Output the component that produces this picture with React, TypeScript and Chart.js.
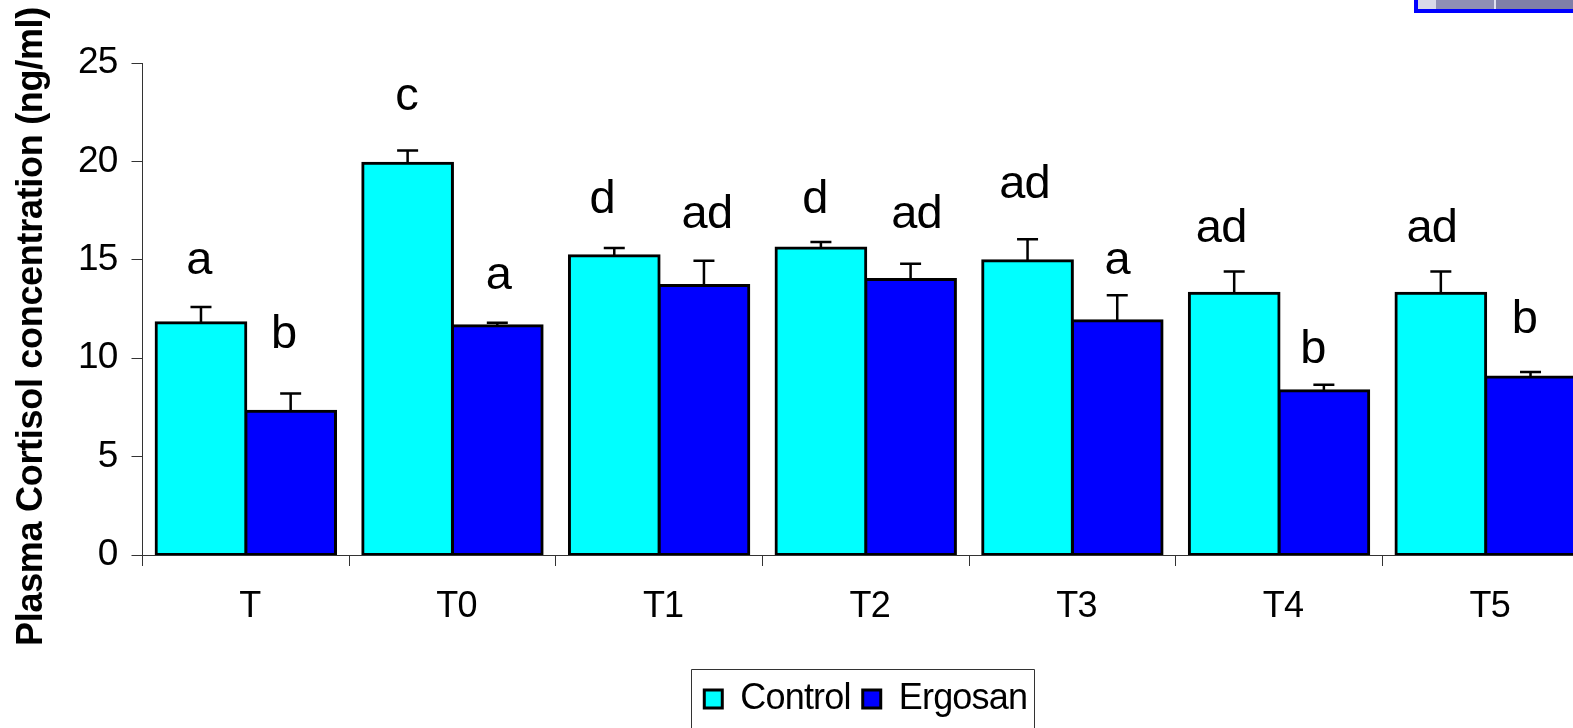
import React, { useEffect, useRef } from "react";
import { Chart, registerables } from "chart.js";

Chart.register(...registerables);

const categories = ["T", "T0", "T1", "T2", "T3", "T4", "T5"];
const controlValues = [11.8, 19.9, 15.2, 15.6, 14.95, 13.3, 13.3];
const ergosanValues = [7.3, 11.65, 13.7, 14.0, 11.9, 8.35, 9.05];
const controlErrorTops = [12.6, 20.55, 15.6, 15.9, 16.05, 14.4, 14.4];
const ergosanErrorTops = [8.2, 11.8, 14.95, 14.8, 13.2, 8.65, 9.3];
const controlLetters = ["a", "c", "d", "d", "ad", "ad", "ad"];
const ergosanLetters = ["b", "a", "ad", "ad", "a", "b", "b"];
const controlLetterBase = [14.3, 22.6, 17.4, 17.4, 18.15, 15.9, 15.9];
const ergosanLetterBase = [10.5, 13.5, 16.6, 16.6, 14.3, 9.75, 11.3];
const yAxisTitle = "Plasma Cortisol concentration (ng/ml)";

const FONT = '"Liberation Sans", Arial, sans-serif';
const controlLetterShift = [-2, -1, -12, -6, -3, -13, -9];
const ergosanLetterShift = [-7, 1, 3, 6, 0, -11, -6];

const spacingPlugin = {
  id: "spacing",
  beforeUpdate(chart: any) {
    chart.ctx.letterSpacing = "-0.8px";
  },
};

const annotationsPlugin = {
  id: "annotations",
  afterDatasetsDraw(chart: any) {
    const { ctx, scales } = chart;
    const y = scales.y;
    const groups = [
      { tops: controlErrorTops, letters: controlLetters, bases: controlLetterBase, shift: controlLetterShift },
      { tops: ergosanErrorTops, letters: ergosanLetters, bases: ergosanLetterBase, shift: ergosanLetterShift },
    ];
    groups.forEach((group, di) => {
      const meta = chart.getDatasetMeta(di);
      meta.data.forEach((bar: any, i: number) => {
        const top = y.getPixelForValue(group.tops[i]);
        ctx.save();
        ctx.strokeStyle = "#000";
        ctx.lineWidth = 2.5;
        ctx.beginPath();
        ctx.moveTo(bar.x, bar.y);
        ctx.lineTo(bar.x, top);
        ctx.moveTo(bar.x - 10.5, top);
        ctx.lineTo(bar.x + 10.5, top);
        ctx.stroke();
        ctx.fillStyle = "#000";
        ctx.font = `47px ${FONT}`;
        ctx.textAlign = "center";
        ctx.textBaseline = "alphabetic";
        ctx.fillText(group.letters[i], bar.x + group.shift[i], y.getPixelForValue(group.bases[i]));
        ctx.restore();
      });
    });
  },
  afterDraw(chart: any) {
    const { ctx, legend } = chart;
    ctx.save();
    ctx.fillStyle = "#000";
    ctx.translate(32, 326.5);
    ctx.rotate(-Math.PI / 2);
    ctx.font = `bold 36px ${FONT}`;
    ctx.letterSpacing = "-0.3px";
    ctx.textAlign = "center";
    ctx.textBaseline = "middle";
    ctx.fillText(yAxisTitle, 0, 0);
    ctx.restore();
    ctx.save();
    ctx.strokeStyle = "#333";
    ctx.lineWidth = 1;
    ctx.beginPath();
    ctx.moveTo(691.5, 735);
    ctx.lineTo(691.5, legend.top + 0.5);
    ctx.lineTo(1034.5, legend.top + 0.5);
    ctx.lineTo(1034.5, 735);
    ctx.stroke();
    ctx.restore();
  },
};

export default function App() {
  const ref = useRef<HTMLCanvasElement | null>(null);
  useEffect(() => {
    const barStyle = {
      borderColor: "#000",
      borderWidth: 3,
      borderSkipped: false,
      inflateAmount: 1.5,
      categoryPercentage: 0.868,
      barPercentage: 1,
    };
    const chart = new Chart(ref.current as HTMLCanvasElement, {
      type: "bar",
      data: {
        labels: categories,
        datasets: [
          { label: "Control", data: controlValues, backgroundColor: "#00ffff", ...barStyle },
          { label: "Ergosan", data: ergosanValues, backgroundColor: "#0000ff", ...barStyle },
        ],
      },
      options: {
        responsive: false,
        animation: false,
        layout: { padding: { left: 0, right: 11, top: 63, bottom: 1 } },
        plugins: {
          tooltip: { enabled: false },
          legend: {
            display: true,
            position: "bottom",
            fullSize: false,
            labels: {
              color: "#000",
              font: { family: FONT, size: 36 },
              boxWidth: 18,
              boxHeight: 18,
              padding: 12,
            },
          },
        },
        scales: {
          x: {
            grid: {
              drawOnChartArea: false,
              color: "#333",
              tickLength: 11,
              lineWidth: 1,
            },
            border: { color: "#333", width: 1 },
            ticks: {
              color: "#000",
              font: { family: FONT, size: 36 },
              padding: 19,
              labelOffset: 4,
              maxRotation: 0,
            },
            afterFit(scale: any) {
              scale.height = 114;
            },
          },
          y: {
            min: 0,
            max: 25,
            grid: {
              drawOnChartArea: false,
              color: "#333",
              tickLength: 11,
              lineWidth: 1,
            },
            border: { color: "#333", width: 1 },
            ticks: {
              stepSize: 5,
              color: "#000",
              font: { family: FONT, size: 37 },
              padding: 14,
            },
            afterFit(scale: any) {
              scale.width = 142.5;
            },
          },
        },
      } as any,
      plugins: [spacingPlugin, annotationsPlugin],
    });
    return () => chart.destroy();
  }, []);

  return (
    <div
      style={{
        position: "fixed",
        left: 0,
        top: 0,
        width: 1573,
        height: 728,
        overflow: "hidden",
        background: "#fff",
      }}
    >
      <canvas ref={ref} width={1600} height={728} style={{ display: "block" }} />
      <div
        style={{
          position: "absolute",
          left: 1414,
          top: 0,
          width: 159,
          height: 13,
          boxSizing: "border-box",
          background:
            "linear-gradient(90deg, #d8d8e8 0 18px, #8f8fb5 18px 76px, #e0e0f0 76px 78px, #7f7fa8 78px 100%)",
          borderLeft: "4px solid #0000ff",
          borderBottom: "4px solid #0000ff",
        }}
      />
    </div>
  );
}
